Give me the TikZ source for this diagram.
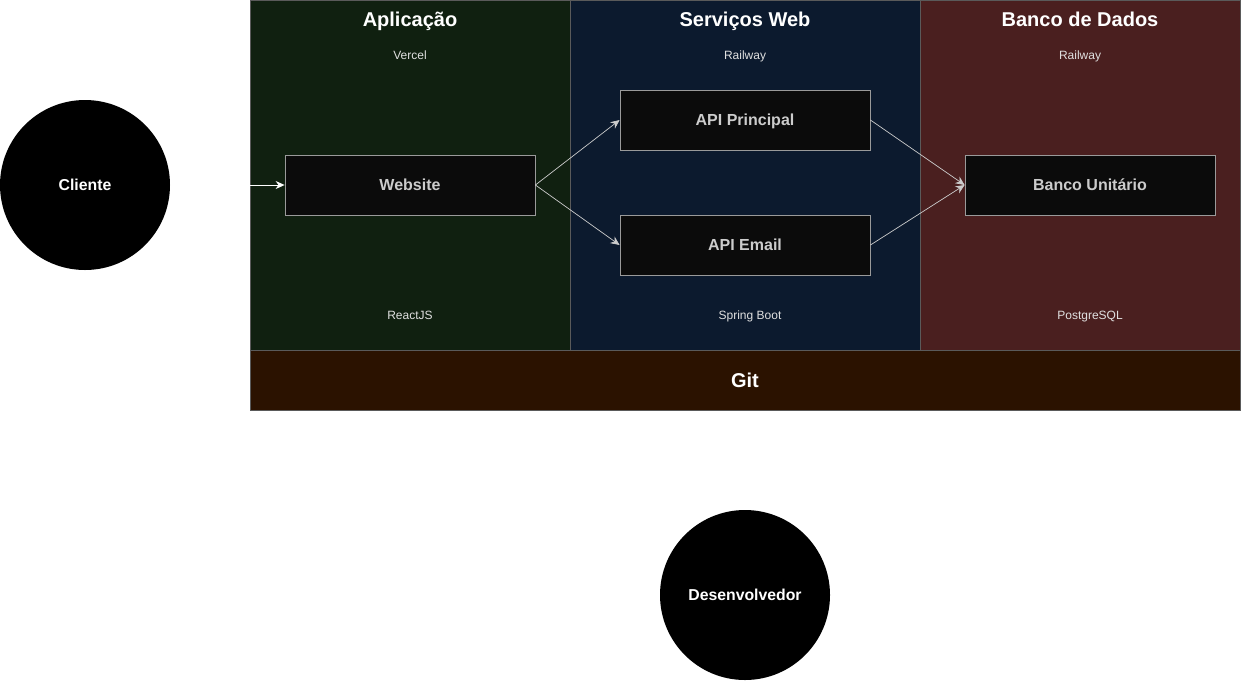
\documentclass[tikz,border=0pt]{standalone}
\usepackage{fontspec}
\setmainfont{Liberation Sans}
\usetikzlibrary{arrows.meta}
\definecolor{appbg}{HTML}{102010}
\definecolor{webbg}{HTML}{0C1A2E}
\definecolor{dbbg}{HTML}{4A1F1F}
\definecolor{gitbg}{HTML}{2B1200}
\definecolor{boxbg}{HTML}{0B0B0B}
\definecolor{boxline}{HTML}{9A9A9A}
\definecolor{panelline}{HTML}{5A5A5A}
\definecolor{boxtext}{HTML}{CCCCCC}
\definecolor{subtext}{HTML}{E0E0E0}
\tikzset{
  panel/.style={draw=panelline, line width=0.8pt, inner sep=0pt, outer sep=0pt},
  comp/.style={draw=boxline, fill=boxbg, line width=0.8pt, minimum width=250pt, minimum height=60pt, inner sep=0pt, text=boxtext, text height=1.0em, text depth=0pt, font=\fontsize{16}{19}\selectfont\bfseries},
  actor/.style={circle, fill=black, minimum size=170pt, inner sep=0pt, text=white, font=\fontsize{15.8}{19}\selectfont\bfseries},
  title/.style={text=white, text height=0.72em, text depth=0.2em, font=\fontsize{20}{24}\selectfont\bfseries},
  sub/.style={text=subtext, text height=0.72em, text depth=0.2em, font=\fontsize{12}{14}\selectfont},
  link/.style={draw=boxtext, line width=0.7pt, -{Stealth[length=9pt,width=8pt,inset=3pt]}},
}
\begin{document}
\begin{tikzpicture}[x=1pt,y=-1pt]
\useasboundingbox (0,0) rectangle (1241,681);
% panels
\fill[appbg] (250,0) rectangle (570,350);
\fill[webbg] (570,0) rectangle (920,350);
\fill[dbbg] (920,0) rectangle (1240,350);
\fill[gitbg] (250,350) rectangle (1240,410);
\draw[panel] (250,0) rectangle (570,350);
\draw[panel] (570,0) rectangle (920,350);
\draw[panel] (920,0) rectangle (1240,350);
\draw[panel] (250,350) rectangle (1240,410);
% titles
\node[title] (tapp) at (410,23.5) {Aplicação};
\node[title] (tweb) at (745,23.5) {Serviços Web};
\node[title] (tdb) at (1080,23.5) {Banco de Dados};
\node[sub] (happ) at (410,57) {Vercel};
\node[sub] (hweb) at (745,57) {Railway};
\node[sub] (hdb) at (1080,57) {Railway};
\node[sub] (fapp) at (410,317) {ReactJS};
\node[sub] (fweb) at (750,317) {Spring Boot};
\node[sub] (fdb) at (1090,317) {PostgreSQL};
\node[title] (git) at (745,385) {Git};
% components
\node[comp] (web) at (410,185) {Website};
\node[comp] (apip) at (745,120) {API Principal};
\node[comp] (apie) at (745,245) {API Email};
\node[comp] (bank) at (1090,185) {Banco Unitário};
% actors
\node[actor] (cli) at (85,185) {Cliente};
\node[actor] (dev) at (745,595) {Desenvolvedor};
% connectors
\coordinate (entry) at (250,185);
\draw[link, draw=white] (entry) -- (web.west);
\draw[link] (web.east) -- (apip.west);
\draw[link] (web.east) -- (apie.west);
\draw[link] (apip.east) -- (bank.west);
\draw[link] (apie.east) -- (bank.west);
\end{tikzpicture}
\end{document}
